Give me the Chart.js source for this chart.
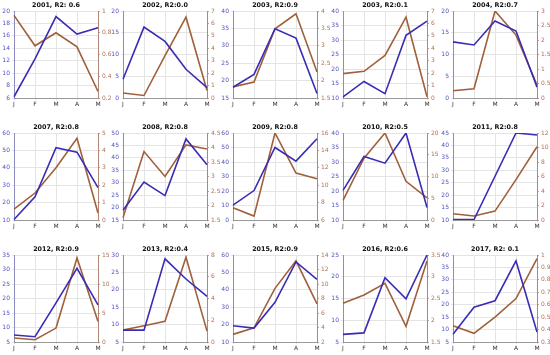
<!DOCTYPE html>
<html><head><meta charset="utf-8">
<script src="https://cdn.jsdelivr.net/npm/chart.js@4.4.1/dist/chart.umd.min.js"></script>
<style>
html,body{margin:0;padding:0;background:#fff;width:550px;height:355px;overflow:hidden;}
canvas{position:absolute;}
</style></head>
<body>
<script>
const months = ['J','F','M','A','M'];
const titles = ['2001, R2: 0.6','2002, R2:0.0','2003, R2:0.9','2003, R2:0.1','2004, R2:0.7',
  '2007, R2:0.8','2008, R2:0.8','2009, R2:0.8','2010, R2:0.5','2011, R2:0.8',
  '2012, R2:0.9','2013, R2:0.4','2015, R2:0.9','2016, R2:0.6','2017, R2: 0.1'];

// blue series (left axis)
const blue2001 = [6.2,12.3,19.1,16.3,17.3];
const blue2002 = [4.3,16.3,13.0,6.6,2.4];
const blue2003a = [18.1,21.8,34.9,32.2,16.3];
const blue2003b = [10.4,15.7,11.5,31.6,36.5];
const blue2004 = [12.9,12.2,17.7,15.4,2.5];
const blue2007 = [10.3,23.3,51.5,49.0,28.6];
const blue2008 = [18.9,30.3,24.8,47.6,37.2];
const blue2009 = [10.3,20.3,50.0,40.6,56.0];
const blue2010 = [20.2,31.9,29.6,40.0,14.3];
const blue2011 = [10.2,10.2,27.6,45.0,44.2];
const blue2012 = [7.4,6.8,18.5,30.4,17.8];
const blue2013 = [8.4,8.4,28.9,23.1,18.1];
const blue2015 = [19.3,18.0,32.8,56.0,46.0];
const blue2016 = [6.75,7.1,19.8,14.9,25.0];
const blue2017 = [8.1,19.0,21.6,37.6,9.0];

// brown series (right axis)
const brown2001 = [0.96,0.68,0.80,0.67,0.26];
const brown2002 = [0.4,0.2,3.4,6.5,0.6];
const brown2003a = [1.82,1.96,3.49,3.92,2.25];
const brown2003b = [1.96,2.15,3.43,6.5,0.1];
const brown2004 = [0.25,0.32,3.0,2.17,0.45];
const brown2007 = [0.63,1.55,3.0,4.7,0.4];
const brown2008 = [1.58,3.86,3.0,4.09,3.95];
const brown2009 = [7.4,6.45,16.0,11.4,10.75];
const brown2010 = [4.5,14.2,20.0,8.9,5.1];
const brown2011 = [0.87,0.55,1.23,5.57,10.1];
const brown2012 = [0.68,0.4,2.4,14.5,3.55];
const brown2013 = [1.1,1.5,1.9,7.8,1.0];
const brown2015 = [3.05,3.96,9.4,13.2,7.25];
const brown2016 = [2.39,2.58,2.85,1.86,3.36];
const brown2017 = [0.43,0.37,0.5,0.65,0.97];

// axis ranges [min,max,step]
const leftRanges = [[6,20,2],[0,20,5],[15,40,5],[10,40,5],[0,20,5],[10,60,10],[15,50,5],[0,60,10],[10,40,5],[10,45,5],[5,35,5],[5,30,5],[10,60,10],[5,25,5],[5,40,5]];
const rightRanges = [[0.2,1,0.2],[0,7,1],[1.5,4,0.5],[0,7,1],[0,3,0.5],[0,5,1],[1.5,4.5,0.5],[6,16,2],[0,20,5],[0,12,2],[0,15,5],[0,8,2],[2,14,2],[1.5,3.5,0.5],[0.3,1,0.1]];

const blueSeries = [blue2001,blue2002,blue2003a,blue2003b,blue2004,blue2007,blue2008,blue2009,blue2010,blue2011,blue2012,blue2013,blue2015,blue2016,blue2017];
const brownSeries = [brown2001,brown2002,brown2003a,brown2003b,brown2004,brown2007,brown2008,brown2009,brown2010,brown2011,brown2012,brown2013,brown2015,brown2016,brown2017];

const colLeft = [14,123,233,343,453];
const rowTop = [10.7,132.5,255];
const plotW = 84, plotH = 87.3;
const axW = 17, titleH = 13, xH = 12;

const BLUE = '#3a2db5', BROWN = '#a0603a';
const font = 'DejaVu Sans';
const fmt = v => String(+Number(v).toFixed(2));

for (let i = 0; i < 15; i++) {
  const r = Math.floor(i/5), c = i%5;
  const cv = document.createElement('canvas');
  const W = plotW + 2*axW, H = Math.round(plotH + titleH + xH);
  cv.width = W; cv.height = H;
  cv.style.width = W+'px'; cv.style.height = H+'px';
  cv.style.left = (colLeft[c]-axW)+'px';
  cv.style.top = (rowTop[r]-titleH)+'px';
  document.body.appendChild(cv);
  const L = leftRanges[i], R = rightRanges[i];
  new Chart(cv, {
    type: 'line',
    data: {
      labels: months,
      datasets: [
        {data: blueSeries[i], borderColor: BLUE, borderWidth: 1.6, pointRadius: 0, yAxisID: 'y', tension: 0},
        {data: brownSeries[i], borderColor: BROWN, borderWidth: 1.6, pointRadius: 0, yAxisID: 'y1', tension: 0}
      ]
    },
    options: {
      responsive: false, animation: false, devicePixelRatio: 1,
      layout: {padding: 0, autoPadding: false},
      plugins: {
        legend: {display: false}, tooltip: {enabled: false},
        title: {display: true, text: titles[i], color: '#111',
          font: {family: font, size: 6.4, weight: 'bold', lineHeight: 1.25},
          padding: {top: 3, bottom: 2}}
      },
      scales: {
        x: {
          offset: false,
          grid: {color: '#e4e4e4', tickLength: 2},
          border: {color: '#999'},
          ticks: {color: '#333', font: {family: font, size: 6}, padding: 1, maxRotation: 0, autoSkip: false},
          afterFit: s => { s.height = xH; }
        },
        y: {
          position: 'left', min: L[0], max: L[1],
          grid: {color: '#e4e4e4', tickLength: 2},
          border: {color: '#8c8cc0'},
          ticks: {stepSize: L[2], color: '#5050c0', font: {family: font, size: 6}, padding: 2, autoSkip: false, callback: fmt},
          afterFit: s => { s.width = axW; }
        },
        y1: {
          position: 'right', min: R[0], max: R[1],
          grid: {drawOnChartArea: false, tickLength: 2, color: '#c8a090'},
          border: {color: '#b08878'},
          ticks: {stepSize: R[2], color: '#b0705a', font: {family: font, size: 6}, padding: 2, autoSkip: false, callback: fmt},
          afterFit: s => { s.width = axW; }
        }
      }
    }
  });
}
</script>
</body></html>
